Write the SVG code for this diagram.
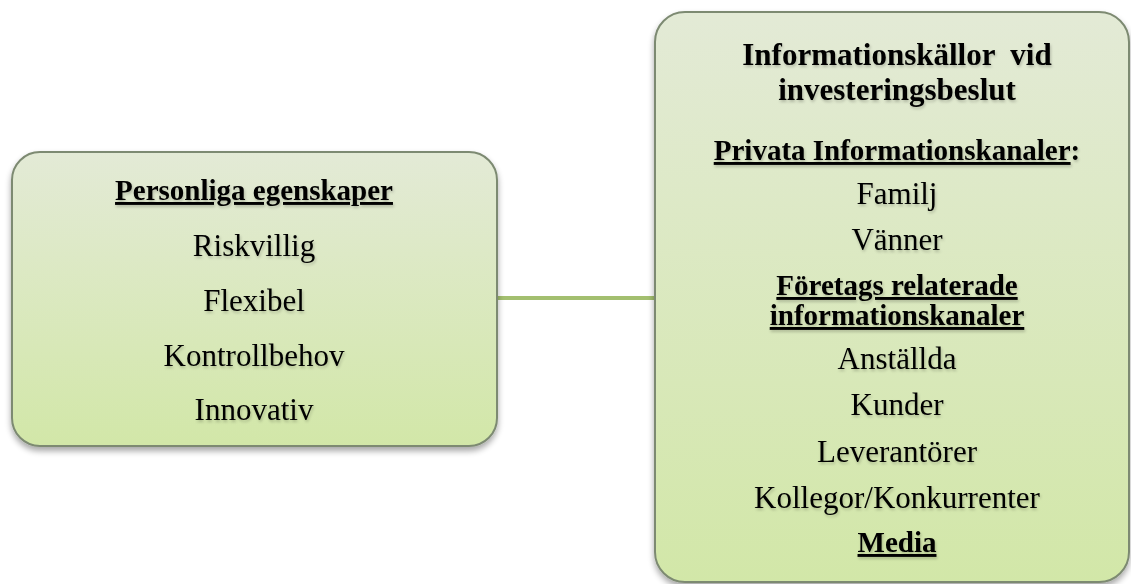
<svg xmlns="http://www.w3.org/2000/svg" width="1131" height="584" viewBox="0 0 1131 584">
<style>
.box{stroke:#7d8a72;stroke-width:2}
.t{font-family:"Liberation Serif","Times New Roman",serif;font-size:31px;fill:#000;text-anchor:middle}
.b{font-weight:bold;font-size:29px}
.h{font-size:31px}
.u{text-decoration:underline}
.tx{filter:url(#ts)}
</style>
<defs>
<linearGradient id="g" x1="0" y1="0" x2="0" y2="1">
<stop offset="0" stop-color="#e3ead6"/>
<stop offset="1" stop-color="#d2e7a8"/>
</linearGradient>
<filter id="sh" x="-5%" y="-5%" width="110%" height="115%">
<feGaussianBlur in="SourceAlpha" stdDeviation="3"/>
<feOffset dx="0" dy="4" result="o"/>
<feComponentTransfer><feFuncA type="linear" slope="0.35"/></feComponentTransfer>
<feMerge><feMergeNode/><feMergeNode in="SourceGraphic"/></feMerge>
</filter>
<filter id="ts" x="-5%" y="-20%" width="110%" height="150%">
<feGaussianBlur in="SourceAlpha" stdDeviation="1.5"/>
<feOffset dx="1" dy="2" result="o"/>
<feComponentTransfer><feFuncA type="linear" slope="0.22"/></feComponentTransfer>
<feMerge><feMergeNode/><feMergeNode in="SourceGraphic"/></feMerge>
</filter>
</defs>
<g id="connectors">
<line x1="497" y1="298" x2="656" y2="298" stroke="#a3bf6f" stroke-width="4"/>
</g>
<g id="node-personliga">
<rect class="box" x="12" y="152" width="485" height="294" rx="28" fill="url(#g)" filter="url(#sh)"/>
<g class="tx">
<text class="t b" x="254" y="200"><tspan class="u">Personliga egenskaper</tspan></text>
<text class="t" x="254" y="256">Riskvillig</text>
<text class="t" x="254" y="311">Flexibel</text>
<text class="t" x="254" y="366">Kontrollbehov</text>
<text class="t" x="254" y="420">Innovativ</text>
</g>
</g>
<g id="node-information">
<rect class="box" x="655" y="12" width="474" height="570" rx="30" fill="url(#g)" filter="url(#sh)"/>
<g class="tx">
<text class="t b h" x="897" y="65" xml:space="preserve">Informationskällor  vid</text>
<text class="t b h" x="897" y="100">investeringsbeslut</text>
<text class="t b" x="897" y="160"><tspan class="u">Privata Informationskanaler</tspan>:</text>
<text class="t" x="897" y="204">Familj</text>
<text class="t" x="897" y="250">Vänner</text>
<text class="t b" x="897" y="295"><tspan class="u">Företags relaterade</tspan></text>
<text class="t b" x="897" y="325"><tspan class="u">informationskanaler</tspan></text>
<text class="t" x="897" y="369">Anställda</text>
<text class="t" x="897" y="415">Kunder</text>
<text class="t" x="897" y="462">Leverantörer</text>
<text class="t" x="897" y="508">Kollegor/Konkurrenter</text>
<text class="t b" x="897" y="552"><tspan class="u">Media</tspan></text>
</g>
</g>
</svg>
